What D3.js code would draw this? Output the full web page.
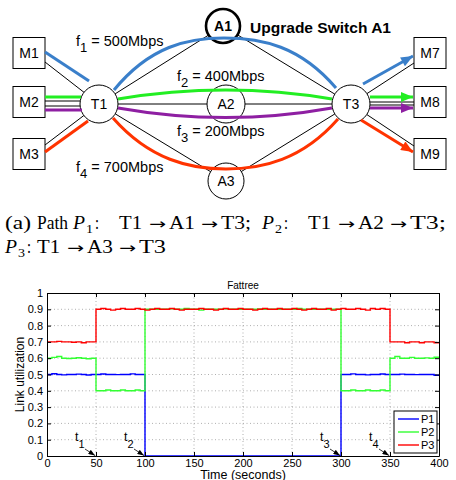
<!DOCTYPE html>
<html>
<head>
<meta charset="utf-8">
<script src="https://cdn.jsdelivr.net/npm/d3@7"></script>
<style>
  body { margin: 0; background: #fff; }
  text { font-family: "Liberation Sans", Arial, Helvetica, sans-serif; }
  .serif { font-family: "Liberation Serif", "Times New Roman", serif; }
  .arr { font-family: "DejaVu Sans", sans-serif; }
</style>
</head>
<body>
<svg id="fig" width="456" height="480"></svg>
<script>
// ---- chart data (sampled every 5 s) ----
const time = d3.range(0, 405, 5);
const p1 = [
  0.5, 0.505, 0.5, 0.498, 0.5, 0.5, 0.502, 0.5, 0.497, 0.5, 0.5, 0.503, 0.5, 0.5, 0.499, 0.5, 0.5, 0.504, 0.5, 0.5,
  0, 0, 0, 0, 0, 0, 0, 0, 0, 0, 0, 0, 0, 0, 0, 0, 0, 0, 0, 0,
  0, 0, 0, 0, 0, 0, 0, 0, 0, 0, 0, 0, 0, 0, 0, 0, 0, 0, 0, 0,
  0.5, 0.5, 0.504, 0.5, 0.5, 0.498, 0.5, 0.5, 0.503, 0.5, 0.5, 0.5, 0.502, 0.5, 0.5, 0.499, 0.5, 0.5, 0.5, 0.495, 0.5
];
const p2 = [
  0.6, 0.605, 0.61, 0.6, 0.598, 0.6, 0.603, 0.6, 0.597, 0.6,
  0.4, 0.4, 0.405, 0.4, 0.4, 0.405, 0.4, 0.4, 0.405, 0.4,
  0.9, 0.9, 0.9, 0.9, 0.9, 0.903, 0.9, 0.9, 0.905, 0.9, 0.9, 0.895, 0.9, 0.9, 0.9, 0.9, 0.903, 0.9, 0.9, 0.9,
  0.9, 0.9, 0.9, 0.902, 0.9, 0.9, 0.9, 0.9, 0.9, 0.9, 0.9, 0.905, 0.9, 0.9, 0.9, 0.9, 0.9, 0.9, 0.9, 0.9,
  0.4, 0.4, 0.405, 0.4, 0.4, 0.405, 0.4, 0.4, 0.405, 0.4,
  0.6, 0.61, 0.6, 0.6, 0.605, 0.6, 0.6, 0.602, 0.6, 0.606, 0.6
];
const p3 = [
  0.7, 0.7, 0.703, 0.7, 0.7, 0.698, 0.7, 0.695, 0.7, 0.7,
  0.9, 0.905, 0.9, 0.895, 0.9, 0.905, 0.9, 0.9, 0.905, 0.9, 0.895, 0.9, 0.905, 0.9, 0.9, 0.905, 0.9, 0.895, 0.9, 0.9,
  0.9, 0.905, 0.9, 0.9, 0.895, 0.9, 0.905, 0.9, 0.9, 0.905, 0.9, 0.9, 0.895, 0.9, 0.905, 0.9, 0.9, 0.905, 0.9, 0.9,
  0.905, 0.9, 0.895, 0.9, 0.905, 0.9, 0.9, 0.905, 0.895, 0.9, 0.905, 0.9, 0.9, 0.905, 0.9, 0.895, 0.905, 0.9, 0.905, 0.9,
  0.7, 0.7, 0.7, 0.695, 0.7, 0.7, 0.695, 0.7, 0.7, 0.695, 0.7
];
const seriesNames = ["P1", "P2", "P3"];
const seriesColors = ["#0000ff", "#33ff33", "#ff0000"];
const eventTimes = [50, 100, 300, 350];
const eventLabels = ["1", "2", "3", "4"];
const xTicks = [0, 50, 100, 150, 200, 250, 300, 350, 400];
const yTicks = [0, 0.1, 0.2, 0.3, 0.4, 0.5, 0.6, 0.7, 0.8, 0.9, 1];

// ---- diagram data ----
const flowNames = ["1", "2", "3", "4"];
const flowRates = [500, 400, 200, 700];

const svg = d3.select("#fig");

// ================= topology diagram =================
const diag = svg.append("g");
const nodes = {
  M1: {x: 29, y: 53, box: true}, M2: {x: 29, y: 102, box: true}, M3: {x: 29, y: 154, box: true},
  M7: {x: 430, y: 53, box: true}, M8: {x: 430, y: 102, box: true}, M9: {x: 430, y: 154, box: true},
  T1: {x: 99, y: 104, r: 19}, T3: {x: 351, y: 104, r: 19},
  A1: {x: 223, y: 26, r: 17, bold: true}, A2: {x: 226, y: 104, r: 19}, A3: {x: 226, y: 181, r: 18}
};

// point on circle n in direction of p
function edge(n, p) {
  const dx = p[0] - n.x, dy = p[1] - n.y, d = Math.hypot(dx, dy);
  return [n.x + dx / d * n.r, n.y + dy / d * n.r];
}
// point on circle n at height y, on the given side
function side(n, y, s) {
  const dy = y - n.y;
  return [n.x + s * Math.sqrt(n.r * n.r - dy * dy), y];
}

const black = [];
black.push([[45, 62], edge(nodes.T1, [45, 62])]);
black.push([[45, 101], side(nodes.T1, 101, -1)]);
black.push([[45, 106], side(nodes.T1, 106, -1)]);
black.push([[45, 145], edge(nodes.T1, [45, 145])]);
["A1", "A2", "A3"].forEach(a => {
  const n = nodes[a];
  black.push([edge(nodes.T1, [n.x, n.y]), edge(n, [nodes.T1.x, nodes.T1.y])]);
  black.push([edge(n, [nodes.T3.x, nodes.T3.y]), edge(nodes.T3, [n.x, n.y])]);
});
black.push([edge(nodes.T3, [414, 63]), [414, 63]]);
black.push([side(nodes.T3, 102, 1), [414, 102]]);
black.push([side(nodes.T3, 105, 1), [414, 105]]);
black.push([edge(nodes.T3, [414, 146]), [414, 146]]);

const flowColors = ["#3a7fca", "#22ee22", "#8e1fa2", "#ff3300"];
const flowPaths = [
  {c: 0, d: "M45,52 L89,81"},
  {c: 0, d: "M114,90 C150,46 188,38 224,38 C262,38 300,46 336,88"},
  {c: 0, d: "M363,84 L413,56", arrow: true},
  {c: 1, d: "M45,97 L81,97"},
  {c: 1, d: "M118,99 Q226,81 332,99"},
  {c: 1, d: "M370,97 L413,97", arrow: true},
  {c: 2, d: "M45,110 L82,110"},
  {c: 2, d: "M118,108 Q226,127 332,108"},
  {c: 2, d: "M370,108 L413,108", arrow: true},
  {c: 3, d: "M45,152 L88,121"},
  {c: 3, d: "M113,118 C150,160 190,169 226,169 C262,169 302,160 338,119"},
  {c: 3, d: "M361,120 L413,152", arrow: true}
];

const defs = svg.append("defs");
flowColors.forEach((col, i) => {
  defs.append("marker").attr("id", "ah" + i)
    .attr("markerUnits", "userSpaceOnUse")
    .attr("viewBox", "0 0 12 10").attr("refX", 12).attr("refY", 5)
    .attr("markerWidth", 13).attr("markerHeight", 10).attr("orient", "auto")
    .append("path").attr("d", "M0,0 L12,5 L0,10 z").attr("fill", col);
});
defs.append("marker").attr("id", "ahk")
  .attr("markerUnits", "userSpaceOnUse")
  .attr("viewBox", "0 0 8 6").attr("refX", 8).attr("refY", 3)
  .attr("markerWidth", 7).attr("markerHeight", 5).attr("orient", "auto")
  .append("path").attr("d", "M0,0 L8,3 L0,6 z").attr("fill", "#000");

// nodes
Object.entries(nodes).forEach(([name, n]) => {
  if (n.box) {
    diag.append("rect").attr("x", n.x - 16).attr("y", n.y - 15.5)
      .attr("width", 32).attr("height", 31)
      .attr("fill", "#fff").attr("stroke", "#000").attr("stroke-width", 1);
  } else {
    diag.append("circle").attr("cx", n.x).attr("cy", n.y).attr("r", n.r)
      .attr("fill", "#fff").attr("stroke", "#000").attr("stroke-width", n.bold ? 2.6 : 1);
  }
});

diag.selectAll("line.link").data(black).enter().append("line")
  .attr("class", "link")
  .attr("x1", d => d[0][0]).attr("y1", d => d[0][1])
  .attr("x2", d => d[1][0]).attr("y2", d => d[1][1])
  .attr("stroke", "#000").attr("stroke-width", 1);

diag.selectAll("path.flow").data(flowPaths).enter().append("path")
  .attr("class", "flow")
  .attr("d", d => d.d)
  .attr("fill", "none")
  .attr("stroke", d => flowColors[d.c])
  .attr("stroke-width", 3)
  .attr("marker-end", d => d.arrow ? "url(#ah" + d.c + ")" : null);

Object.entries(nodes).forEach(([name, n]) => {
  diag.append("text").attr("x", n.x).attr("y", n.y).attr("dy", "0.36em")
    .attr("text-anchor", "middle")
    .style("font-size", "14px")
    .style("font-weight", n.bold ? "bold" : "normal")
    .text(name);
});

diag.append("text").attr("x", 250).attr("y", 33)
  .style("font-size", "14px").style("font-weight", "bold")
  .attr("textLength", 141).attr("lengthAdjust", "spacingAndGlyphs")
  .text("Upgrade Switch A1");

const flowLabelPos = [[76, 46], [177, 81], [177, 136], [76, 172]];
flowNames.forEach((f, i) => {
  const t = diag.append("text").attr("x", flowLabelPos[i][0]).attr("y", flowLabelPos[i][1])
    .style("font-size", "14.5px");
  t.append("tspan").text("f");
  t.append("tspan").attr("dy", 6).style("font-size", "13px").text(f);
  t.append("tspan").attr("dy", -6).text(" = " + flowRates[i] + "Mbps");
});

// ================= caption =================
// [text, x, width, kind]  kind: it = math italic, sub = subscript, arr = arrow
const ARROW = "\u2192";
const capLine1 = [
  ["(a)", 5, 26], ["Path", 37, 31], ["P", 73, 12, "it"], ["1", 86, 7, "sub"], [":", 95, 4],
  ["T1", 119, 23], [ARROW, 149, 17, "arr"], ["A1", 169, 26], [ARROW, 201, 17, "arr"], ["T3;", 221, 30],
  ["P", 262, 12, "it"], ["2", 275, 7, "sub"], [":", 284, 4],
  ["T1", 308, 23], [ARROW, 338, 17, "arr"], ["A2", 358, 26], [ARROW, 390, 17, "arr"], ["T3;", 410, 36]
];
const capLine2 = [
  ["P", 5, 12, "it"], ["3", 18, 7, "sub"], [":", 27, 4],
  ["T1", 37, 23], [ARROW, 67, 17, "arr"], ["A3", 87, 26], [ARROW, 119, 17, "arr"], ["T3", 139, 27]
];
function caption(segs, yBase) {
  const g = svg.append("g");
  segs.forEach(([s, px, w, kind]) => {
    const t = g.append("text").attr("class", kind === "arr" ? "arr" : "serif")
      .attr("x", px).attr("y", kind === "sub" ? yBase + 3.5 : yBase)
      .style("font-size", kind === "sub" ? "13px" : kind === "arr" ? "15px" : "18px")
      .attr("textLength", w).attr("lengthAdjust", "spacingAndGlyphs")
      .text(s);
    if (kind === "it") t.style("font-style", "italic");
  });
}
caption(capLine1, 229);
caption(capLine2, 253);

// ================= line chart =================
const x = d3.scaleLinear().domain([0, 400]).range([47, 439]);
const y = d3.scaleLinear().domain([0, 1]).range([456, 293]);
const chart = svg.append("g");

// grid
chart.append("g").selectAll("line").data(yTicks.slice(1, -1)).enter().append("line")
  .attr("x1", x(0)).attr("x2", x(400)).attr("y1", d => y(d)).attr("y2", d => y(d))
  .attr("stroke", "#9a9a9a").attr("stroke-width", 0.8).attr("stroke-dasharray", "1,2.5");
chart.append("g").selectAll("line").data(xTicks.slice(1, -1)).enter().append("line")
  .attr("y1", y(0)).attr("y2", y(1)).attr("x1", d => x(d)).attr("x2", d => x(d))
  .attr("stroke", "#9a9a9a").attr("stroke-width", 0.8).attr("stroke-dasharray", "1,2.5");

// series
const line = d3.line().x((d, i) => x(time[i])).y(d => y(d)).curve(d3.curveStepAfter);
[p1, p2, p3].forEach((s, i) => {
  chart.append("path").datum(s).attr("d", line)
    .attr("fill", "none").attr("stroke", seriesColors[i]).attr("stroke-width", 1.4);
});

// axes
const fmt = d3.format("~g");
function styleAxis(g) {
  g.select(".domain").attr("stroke", "#000");
  g.selectAll(".tick line").attr("stroke", "#000");
  g.selectAll("text").style("font-size", "11px").attr("fill", "#000")
    .style("font-family", "'Liberation Sans', Arial, sans-serif");
}
chart.append("g").attr("transform", `translate(0,${y(0)})`)
  .call(d3.axisBottom(x).tickValues(xTicks).tickFormat(fmt).tickSizeInner(-4).tickSizeOuter(0).tickPadding(3))
  .call(styleAxis);
chart.append("g").attr("transform", `translate(${x(0)},0)`)
  .call(d3.axisLeft(y).tickValues(yTicks).tickFormat(fmt).tickSizeInner(-4).tickSizeOuter(0).tickPadding(4))
  .call(styleAxis);
chart.append("g").attr("transform", `translate(0,${y(1)})`)
  .call(d3.axisTop(x).tickValues(xTicks).tickFormat("").tickSizeInner(-4).tickSizeOuter(0))
  .call(styleAxis);
chart.append("g").attr("transform", `translate(${x(400)},0)`)
  .call(d3.axisRight(y).tickValues(yTicks).tickFormat("").tickSizeInner(-4).tickSizeOuter(0))
  .call(styleAxis);

chart.append("text").attr("x", (x(0) + x(400)) / 2).attr("y", 289)
  .attr("text-anchor", "middle").style("font-size", "10px").text("Fattree");
chart.append("text").attr("x", (x(0) + x(400)) / 2).attr("y", 479)
  .attr("text-anchor", "middle").style("font-size", "12.5px").text("Time (seconds)");
chart.append("text").attr("transform", `translate(24,${(y(0) + y(1)) / 2}) rotate(-90)`)
  .attr("text-anchor", "middle").style("font-size", "12px").text("Link utilization");

// event annotations
eventTimes.forEach((t, i) => {
  const tx = x(t);
  const lab = chart.append("text").attr("x", tx - 21).attr("y", 441).style("font-size", "12.5px");
  lab.append("tspan").text("t");
  lab.append("tspan").attr("dy", 7).style("font-size", "11px").text(eventLabels[i]);
  chart.append("line").attr("x1", tx - 11).attr("y1", 449).attr("x2", tx - 1).attr("y2", y(0) - 0.5)
    .attr("stroke", "#000").attr("stroke-width", 0.8).attr("marker-end", "url(#ahk)");
});

// legend
const lg = chart.append("g").attr("transform", "translate(394,411)");
lg.append("rect").attr("width", 43).attr("height", 42)
  .attr("fill", "#fff").attr("stroke", "#000").attr("stroke-width", 1);
seriesNames.forEach((n, i) => {
  const yy = 8 + i * 13;
  lg.append("line").attr("x1", 4).attr("x2", 25).attr("y1", yy).attr("y2", yy)
    .attr("stroke", seriesColors[i]).attr("stroke-width", 1.4);
  lg.append("text").attr("x", 27).attr("y", yy).attr("dy", "0.36em")
    .style("font-size", "11px").text(n);
});
</script>
</body>
</html>
